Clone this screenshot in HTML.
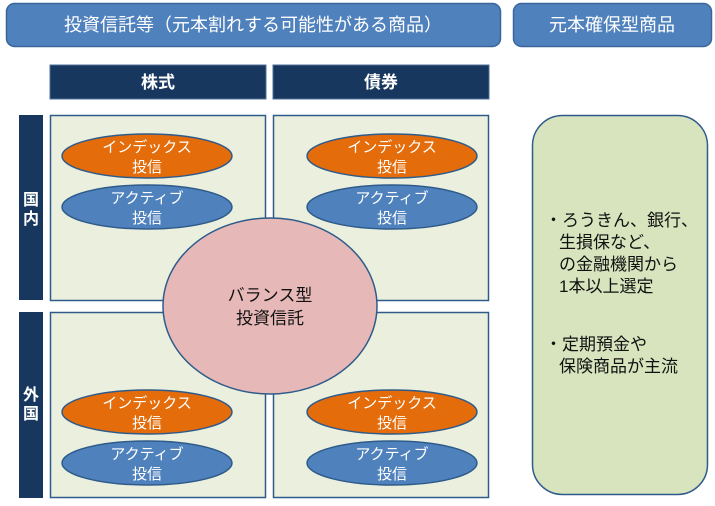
<!DOCTYPE html>
<html><head><meta charset="utf-8"><style>
html,body{margin:0;padding:0;background:#fff;}
svg text{font-family:"Liberation Sans","Noto Sans CJK JP",sans-serif;}
</style></head><body>
<svg width="715" height="501" viewBox="0 0 715 501" xmlns="http://www.w3.org/2000/svg">
<rect x="0" y="0" width="715" height="501" fill="#fff"/>
<!-- top bars -->
<rect x="6.5" y="3.5" width="494" height="43" rx="8" fill="#4f81bd" stroke="#3a659a" stroke-width="1.5"/>
<text x="253" y="31" font-size="18" fill="#fff" text-anchor="middle">投資信託等（元本割れする可能性がある商品）</text>
<rect x="513.5" y="3.5" width="198" height="43" rx="8" fill="#4f81bd" stroke="#3a659a" stroke-width="1.5"/>
<text x="612" y="31" font-size="18" fill="#fff" text-anchor="middle">元本確保型商品</text>
<!-- headers -->
<rect x="50" y="65" width="216" height="34" fill="#17375e" stroke="#4f6f99"/>
<text x="158" y="88" font-size="17" font-weight="bold" fill="#fff" text-anchor="middle">株式</text>
<rect x="273" y="65" width="216" height="34" fill="#17375e" stroke="#4f6f99"/>
<text x="381" y="88" font-size="17" font-weight="bold" fill="#fff" text-anchor="middle">債券</text>
<!-- side bars -->
<rect x="19" y="115" width="24" height="185" fill="#17375e"/>
<text x="31" y="205" font-size="16" font-weight="bold" fill="#fff" text-anchor="middle">国</text>
<text x="31" y="224" font-size="16" font-weight="bold" fill="#fff" text-anchor="middle">内</text>
<rect x="19" y="312" width="24" height="186" fill="#17375e"/>
<text x="31" y="400" font-size="16" font-weight="bold" fill="#fff" text-anchor="middle">外</text>
<text x="31" y="419" font-size="16" font-weight="bold" fill="#fff" text-anchor="middle">国</text>
<!-- cells -->
<g fill="#ebf0de" stroke="#2e5b8a" stroke-width="1.5">
<rect x="50.5" y="115.5" width="215" height="185"/>
<rect x="273.5" y="115.5" width="215" height="185"/>
<rect x="50.5" y="312.5" width="215" height="185"/>
<rect x="273.5" y="312.5" width="215" height="185"/>
</g>
<!-- ellipses -->
<g stroke="#2e5b8a" stroke-width="1.5">
<ellipse cx="147" cy="156" rx="85" ry="22" fill="#e46c0a"/>
<ellipse cx="147" cy="207" rx="85" ry="22" fill="#4f81bd"/>
<ellipse cx="392" cy="156" rx="85" ry="22" fill="#e46c0a"/>
<ellipse cx="392" cy="207" rx="85" ry="22" fill="#4f81bd"/>
<ellipse cx="147" cy="412" rx="85" ry="22" fill="#e46c0a"/>
<ellipse cx="147" cy="463" rx="85" ry="22" fill="#4f81bd"/>
<ellipse cx="392" cy="412" rx="85" ry="22" fill="#e46c0a"/>
<ellipse cx="392" cy="463" rx="85" ry="22" fill="#4f81bd"/>
</g>
<g font-size="15" fill="#fff" text-anchor="middle">
<text x="147" y="152">インデックス</text><text x="147" y="172">投信</text>
<text x="147" y="203">アクティブ</text><text x="147" y="223">投信</text>
<text x="392" y="152">インデックス</text><text x="392" y="172">投信</text>
<text x="392" y="203">アクティブ</text><text x="392" y="223">投信</text>
<text x="147" y="408">インデックス</text><text x="147" y="428">投信</text>
<text x="147" y="459">アクティブ</text><text x="147" y="479">投信</text>
<text x="392" y="408">インデックス</text><text x="392" y="428">投信</text>
<text x="392" y="459">アクティブ</text><text x="392" y="479">投信</text>
</g>
<!-- center circle -->
<ellipse cx="270" cy="306" rx="107" ry="88" fill="#e6b9b8" stroke="#2e5b8a" stroke-width="1.5"/>
<text x="270" y="301" font-size="17" fill="#111" text-anchor="middle">バランス型</text>
<text x="270" y="324" font-size="17" fill="#111" text-anchor="middle">投資信託</text>
<!-- right box -->
<rect x="532.5" y="115.5" width="175" height="379" rx="30" fill="#d7e4bd" stroke="#2e5b8a" stroke-width="1.5"/>
<g font-size="17" fill="#111">
<text x="545" y="226">・ろうきん、銀行、</text>
<text x="559" y="248">生損保など、</text>
<text x="559" y="270">の金融機関から</text>
<text x="559" y="292">1本以上選定</text>
<text x="545" y="350">・定期預金や</text>
<text x="559" y="372">保険商品が主流</text>
</g>
</svg>
</body></html>
